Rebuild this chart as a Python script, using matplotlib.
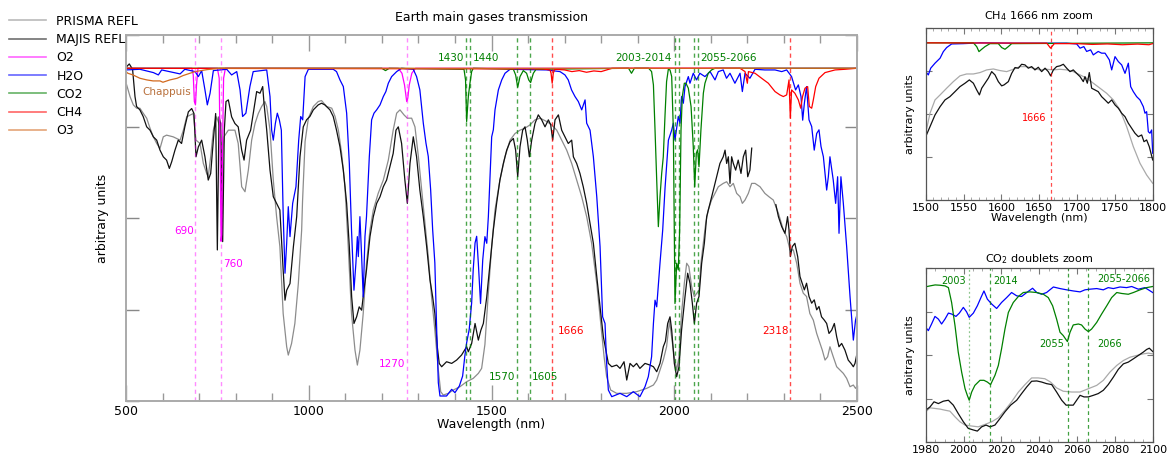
import numpy as np
import matplotlib.pyplot as plt
from matplotlib.ticker import MultipleLocator, NullFormatter
from matplotlib.lines import Line2D

nan = np.nan

# ---------------- main panel (500-2500 nm) ----------------
majis_wl = [501.8, 509, 518, 524.6, 529, 538, 547, 556.6, 565.7, 574.8, 584, 593, 602, 611, 618.6, 625,
            634, 643, 652, 661, 670.6, 679.7, 686, 691.5, 698, 707, 716, 725, 731.7, 739, 745.3, 749.9,
            754.5, 759, 764.5, 769, 773.6, 780, 789, 798, 807, 816.5, 823, 830, 841, 848, 857.5, 866.6,
            874, 877.6, 885, 894, 903, 912, 921, 930, 935, 939.6, 948.7, 958, 967, 976, 985, 994, 1003,
            1012.5, 1026, 1035, 1044, 1058, 1067, 1076, 1085.4, 1094.6, 1103.7, 1111, 1117.4, 1123.7,
            1131, 1138, 1144.7, 1151, 1158, 1167.5, 1176.6, 1185.8, 1195, 1204, 1213, 1222, 1231,
            1238.7, 1245, 1254, 1263, 1269.7, 1277, 1286, 1295, 1304, 1313.4, 1322.6, 1331.7, 1339,
            1345, 1351.7, 1357, 1363.6, 1377, 1391, 1404.6, 1418, 1432, 1436.6, 1445.7, 1455, 1464,
            1471, 1477.7, 1487, 1496, 1505, 1514, 1523, 1532.4, 1541.6, 1550.7, 1559.8, 1566, 1571.7,
            1578, 1585.3, 1591.7, 1598, 1603.6, 1610, 1619, 1628, 1637.3, 1646.4, 1655.6, 1662, 1667.4,
            1673.8, 1683, 1692, 1701, 1710, 1719.4, 1724, 1733, 1742, 1751, 1760.4, 1769.6, 1778.7,
            1788, 1797, 1806, 1813, 1819.7, 1829, 1842.5, 1851.6, 1862.6, 1870, 1879, 1888, 1897, 1906,
            1920, 1933.7, 1943, 1952, 1961, 1970, 1976, 1982, 1988.4, 1993, 2000.2, 2006.6, 2013, 2020,
            2029.4, 2036.7, 2043, 2049.5, 2055, 2061.3, 2067.7, 2075, 2082.3, 2088.7, 2098, 2107, 2116,
            2125, 2134, 2139, 2143.4, 2148, 2152.5, 2157, 2161.6, 2168, 2175, 2182.6, 2189, 2195.4,
            2201, 2207, 2212, 2246, 2278, 2285, 2294, 2303, 2310, 2314, 2317.6, 2323, 2330, 2337.7,
            2344, 2350, 2356, 2362, 2368.7, 2376, 2383, 2389.7, 2396, 2403, 2410.6, 2417, 2423.4,
            2430.7, 2438, 2444.4, 2450.7, 2458, 2467, 2476, 2483.6, 2490, 2494.5, 2500]
majis_val = [1.005, 1.013, 0.997, 0.915, 0.885, 0.875, 0.855, 0.824, 0.814, 0.794, 0.784, 0.754, 0.734,
             0.724, 0.699, 0.719, 0.754, 0.784, 0.774, 0.824, 0.869, 0.879, 0.864, 0.734, 0.764, 0.784,
             0.734, 0.664, 0.684, 0.784, 0.864, 0.454, 0.854, 0.834, 0.479, 0.814, 0.9, 0.905, 0.854,
             0.834, 0.824, 0.754, 0.724, 0.784, 0.814, 0.864, 0.93, 0.925, 0.945, 0.895, 0.814, 0.694,
             0.614, 0.594, 0.574, 0.394, 0.303, 0.333, 0.353, 0.464, 0.554, 0.734, 0.824, 0.845, 0.855,
             0.875, 0.89, 0.895, 0.89, 0.875, 0.855, 0.814, 0.764, 0.694, 0.594, 0.464, 0.313, 0.233,
             0.253, 0.283, 0.273, 0.333, 0.394, 0.494, 0.554, 0.594, 0.614, 0.644, 0.664, 0.704, 0.744,
             0.814, 0.824, 0.774, 0.664, 0.594, 0.714, 0.794, 0.734, 0.634, 0.554, 0.464, 0.364, 0.313,
             0.263, 0.163, 0.113, 0.103, 0.118, 0.113, 0.123, 0.138, 0.163, 0.148, 0.173, 0.233, 0.183,
             0.213, 0.233, 0.313, 0.414, 0.514, 0.594, 0.664, 0.714, 0.754, 0.779, 0.789, 0.754, 0.674,
             0.764, 0.814, 0.824, 0.784, 0.734, 0.784, 0.834, 0.86, 0.845, 0.824, 0.845, 0.83, 0.784,
             0.845, 0.86, 0.814, 0.794, 0.774, 0.784, 0.734, 0.714, 0.684, 0.644, 0.594, 0.534, 0.474,
             0.374, 0.283, 0.193, 0.153, 0.113, 0.103, 0.108, 0.098, 0.118, 0.063, 0.113, 0.103, 0.113,
             0.098, 0.113, 0.108, 0.103, 0.088, 0.113, 0.163, 0.18, 0.233, 0.253, 0.213, 0.113, 0.073,
             0.103, 0.213, 0.313, 0.384, 0.354, 0.294, 0.233, 0.294, 0.314, 0.414, 0.474, 0.554, 0.594,
             0.634, 0.674, 0.714, 0.734, 0.754, 0.714, 0.734, 0.654, 0.734, 0.714, 0.694, 0.724, 0.684,
             0.734, 0.754, 0.674, 0.694, 0.76, nan, 0.59, 0.554, 0.524, 0.504, 0.554, 0.514, 0.434,
             0.464, 0.474, 0.434, 0.374, 0.354, 0.334, 0.354, 0.314, 0.294, 0.304, 0.274, 0.284, 0.253,
             0.243, 0.233, 0.203, 0.213, 0.233, 0.193, 0.163, 0.173, 0.153, 0.123, 0.113, 0.103, 0.113,
             0.143]

prisma_wl = [501.8, 511, 520, 529, 538, 547, 556.6, 565.7, 574.8, 584, 593, 602, 611, 629, 648, 657, 666,
             684, 691.5, 702.5, 711.6, 720.7, 725, 731.7, 739, 748, 757, 762.7, 768, 780, 798, 807, 816.5,
             825.6, 834.7, 843.8, 853, 862, 871, 880, 885, 894, 903, 912, 921, 930, 939.6, 944, 953, 962,
             971.5, 980.6, 983, 990, 999, 1012.5, 1026, 1035, 1049, 1063, 1072, 1081, 1090, 1099, 1108,
             1117, 1126.5, 1133, 1140, 1149, 1158, 1167.5, 1176.6, 1190, 1204, 1217.7, 1231, 1240.5,
             1249.6, 1260.5, 1269.7, 1281.5, 1290.6, 1300, 1309, 1318, 1327, 1336, 1345, 1354.5, 1361,
             1368, 1382, 1395.5, 1413.8, 1432, 1450, 1464, 1473, 1482, 1491, 1500.5, 1509.6, 1523, 1537,
             1550.7, 1564.4, 1578, 1591.7, 1605.4, 1619, 1633, 1651, 1664.7, 1678.4, 1692, 1705.7,
             1719.4, 1733, 1746.8, 1760.4, 1774, 1788, 1799, 1808, 1815, 1826, 1842.5, 1870, 1897,
             1924.6, 1943, 1952, 1961, 1970, 1979, 1987, 2000, 2006.6, 2013, 2020, 2027.6, 2034, 2040,
             2047.6, 2055, 2061, 2067.7, 2073, 2079.6, 2086, 2093, 2102, 2111.5, 2120.6, 2134, 2143.4,
             2152.5, 2161.6, 2170.8, 2180, 2186.3, 2193.6, 2202.7, 2211.8, 2221, 2234.6, 2248, 2259,
             2271, 2285, 2298.5, 2307.6, 2316.7, 2325.8, 2335, 2344, 2353, 2362, 2371, 2380.5, 2389.7,
             2398.8, 2405, 2412.5, 2419.7, 2426, 2435, 2444.4, 2453.5, 2462.6, 2471.7, 2480.9, 2490,
             2496, 2500]
prisma_val = [0.95, 0.915, 0.89, 0.88, 0.88, 0.865, 0.85, 0.82, 0.794, 0.774, 0.759, 0.794, 0.799, 0.794,
              0.784, 0.814, 0.854, 0.864, 0.784, 0.774, 0.714, 0.684, 0.674, 0.734, 0.814, 0.854, 0.824,
              0.714, 0.794, 0.814, 0.814, 0.774, 0.644, 0.629, 0.694, 0.784, 0.834, 0.864, 0.885, 0.9,
              0.885, 0.814, 0.664, 0.554, 0.464, 0.263, 0.163, 0.138, 0.173, 0.233, 0.353, 0.514, 0.6,
              0.78, 0.85, 0.885, 0.9, 0.903, 0.885, 0.88, 0.855, 0.814, 0.744, 0.644, 0.464, 0.263, 0.153,
              0.108, 0.153, 0.263, 0.414, 0.514, 0.574, 0.624, 0.664, 0.724, 0.814, 0.865, 0.875, 0.86,
              0.85, 0.85, 0.824, 0.734, 0.634, 0.534, 0.434, 0.313, 0.213, 0.093, 0.028, 0.018, 0.023,
              0.033, 0.043, 0.058, 0.068, 0.083, 0.098, 0.17, 0.32, 0.464, 0.574, 0.664, 0.734, 0.784,
              0.804, 0.814, 0.82, 0.83, 0.845, 0.85, 0.84, 0.83, 0.814, 0.784, 0.754, 0.714, 0.664, 0.614,
              0.554, 0.474, 0.353, 0.233, 0.133, 0.073, 0.033, 0.023, 0.023, 0.028, 0.038, 0.048, 0.063,
              0.093, 0.123, 0.163, 0.24, 0.133, 0.093, 0.133, 0.263, 0.354, 0.414, 0.404, 0.344, 0.313,
              0.323, 0.333, 0.414, 0.474, 0.534, 0.574, 0.604, 0.624, 0.644, 0.654, 0.659, 0.644, 0.654,
              0.624, 0.614, 0.594, 0.604, 0.624, 0.654, 0.654, 0.644, 0.624, 0.614, 0.604, 0.564, 0.514,
              0.494, 0.454, 0.454, 0.414, 0.354, 0.324, 0.314, 0.263, 0.243, 0.203, 0.173, 0.153, 0.123,
              0.133, 0.163, 0.133, 0.103, 0.093, 0.083, 0.068, 0.043, 0.048, 0.038, 0.045]

h2o_wl = [500, 538, 575, 588.5, 597.6, 648, 661, 689, 698, 707, 716, 722.5, 730, 739, 775.5, 789, 803,
          812, 819, 828, 839, 848, 885, 894, 898.5, 903, 908.6, 914, 919.5, 925, 930, 935, 939.6, 944,
          948.7, 956, 965, 972.5, 978, 983.4, 990, 999, 1067, 1076, 1085.4, 1094.6, 1103.7, 1111, 1117,
          1123.7, 1129, 1133, 1135.6, 1140, 1144.7, 1149, 1153.8, 1158, 1165.7, 1172, 1178.5, 1185.8,
          1195, 1204, 1211, 1217.7, 1226.8, 1240.5, 1254, 1286, 1295, 1304, 1313.4, 1320.7, 1327, 1333.5,
          1339, 1345, 1350, 1354.5, 1359, 1377, 1391, 1400, 1412, 1421, 1427, 1432, 1439, 1445.7, 1450,
          1455, 1459.4, 1464, 1470, 1476, 1482, 1487, 1491.4, 1496, 1500.5, 1505, 1509.6, 1518.8, 1528,
          1537, 1550.7, 1651, 1687.5, 1701, 1710, 1719, 1728.5, 1737.6, 1746.8, 1756, 1760.4, 1769.6,
          1778.7, 1788, 1797, 1804, 1810.6, 1815, 1819.7, 1829, 1851.6, 1870, 1888, 1906, 1920, 1929,
          1938, 1943, 1947.4, 1952, 1961, 1968.4, 1974.8, 1984, 1993, 1997.5, 2002, 2011, 2015.7, 2020,
          2024.9, 2029.4, 2038.5, 2043, 2052, 2061, 2070, 2084, 2098, 2111.5, 2120.6, 2134, 2143,
          2152.5, 2166, 2180, 2186.3, 2193.6, 2207, 2221, 2248, 2275.7, 2294, 2307.6, 2321, 2332,
          2339.5, 2346.8, 2351.4, 2356, 2362, 2368.7, 2376, 2383, 2389.7, 2396, 2401.5, 2408, 2417,
          2421.6, 2426, 2435, 2441.6, 2447, 2450.8, 2456, 2462.6, 2471.7, 2481, 2490, 2496, 2500]
h2o_val = [0.995, 0.997, 0.987, 0.98, 0.995, 0.983, 0.997, 0.99, 0.975, 0.993, 0.935, 0.89, 0.925, 0.993,
           0.997, 0.98, 0.99, 0.935, 0.855, 0.865, 0.945, 0.99, 0.995, 0.915, 0.814, 0.784, 0.834, 0.865,
           0.845, 0.814, 0.564, 0.384, 0.474, 0.584, 0.494, 0.594, 0.644, 0.784, 0.855, 0.845, 0.975,
           0.997, 0.997, 0.99, 0.965, 0.945, 0.865, 0.714, 0.514, 0.333, 0.414, 0.494, 0.434, 0.554, 0.434,
           0.313, 0.494, 0.554, 0.734, 0.845, 0.865, 0.875, 0.89, 0.915, 0.93, 0.955, 0.975, 0.99, 1.0,
           0.997, 0.975, 0.935, 0.835, 0.775, 0.735, 0.635, 0.515, 0.415, 0.215, 0.055, 0.015, 0.015,
           0.035, 0.025, 0.045, 0.075, 0.135, 0.175, 0.215, 0.295, 0.395, 0.475, 0.495, 0.414, 0.293,
           0.424, 0.494, 0.474, 0.554, 0.674, 0.794, 0.815, 0.875, 0.935, 0.965, 0.985, 0.997, 0.995,
           0.99, 0.98, 0.965, 0.935, 0.915, 0.9, 0.875, 0.905, 0.835, 0.814, 0.734, 0.614, 0.464, 0.253,
           0.233, 0.113, 0.033, 0.013, 0.023, 0.013, 0.028, 0.013, 0.043, 0.073, 0.133, 0.233, 0.303,
           0.283, 0.414, 0.514, 0.64, 0.784, 0.814, 0.835, 0.784, 0.855, 0.835, 0.915, 0.895, 0.945,
           0.975, 0.955, 0.985, 0.965, 0.985, 0.975, 0.99, 0.965, 0.99, 0.995, 0.97, 0.985, 0.955, 0.985,
           0.93, 0.985, 0.97, 0.997, 0.995, 0.995, 0.99, 0.995, 0.975, 0.935, 0.95, 0.915, 0.844, 0.895,
           0.945, 0.845, 0.825, 0.754, 0.804, 0.815, 0.765, 0.734, 0.634, 0.674, 0.734, 0.664, 0.594,
           0.674, 0.504, 0.674, 0.594, 0.464, 0.313, 0.183, 0.243, 0.26]

o2_wl = [500, 680, 684, 687, 690, 693, 697, 750, 755, 758, 760, 762, 764, 767, 772, 1245, 1255, 1262,
         1268, 1271, 1275, 1282, 1292, 2500]
o2_val = [1, 1, 0.98, 0.9, 0.89, 0.95, 1, 1, 0.97, 0.7, 0.48, 0.5, 0.75, 0.97, 1, 1, 0.985, 0.95, 0.9,
          0.91, 0.95, 0.985, 1, 1]

co2_wl = [500, 1200, 1210, 1220, 1424.7, 1429, 1432, 1436.6, 1441, 1445.7, 1450, 1559.8, 1566, 1571.7,
          1578, 1587, 1596, 1601.8, 1607, 1614.5, 1621.8, 1875, 1883, 1891, 1930, 1938, 1943, 1947.4,
          1952, 1956.5, 1961, 1965.6, 1970, 1974.8, 1979, 1983.8, 1988.4, 1993, 1997.5, 2002, 2006.6,
          2011, 2014.8, 2018.5, 2022, 2027.6, 2032, 2038.5, 2046, 2052, 2056, 2060.4, 2064, 2067.7,
          2073, 2079.6, 2084, 2093, 2102, 2111.5, 2500]
co2_val = [1, 1, 0.993, 1, 0.997, 0.965, 0.84, 0.915, 0.955, 0.99, 1.0, 0.997, 0.98, 0.943, 0.975, 0.993,
           0.985, 0.965, 0.957, 0.985, 0.997, 1.0, 0.985, 1.0, 1.0, 0.99, 0.95, 0.815, 0.664, 0.524,
           0.614, 0.684, 0.734, 0.86, 0.96, 0.997, 0.995, 0.975, 0.815, 0.293, 0.414, 0.394, 0.514,
           0.815, 0.915, 0.955, 0.955, 0.94, 0.885, 0.765, 0.644, 0.745, 0.755, 0.704, 0.815, 0.925,
           0.955, 0.985, 0.995, 1.0, 1.0]

ch4_wl = [500, 1640, 1660, 1663, 1666, 1669, 1673, 1700, 1720, 1740, 1760, 1780, 1800, 1830, 2180,
          2193.6, 2200, 2203, 2221, 2239, 2257.4, 2275.7, 2289, 2298.5, 2307.6, 2314, 2317.6, 2321,
          2330, 2339.5, 2346, 2351, 2357.7, 2365, 2369.6, 2376, 2380.5, 2387, 2396, 2412.5, 2440, 2467,
          2500]
ch4_val = [1, 0.998, 0.995, 0.985, 0.955, 0.985, 0.997, 0.995, 0.99, 0.993, 0.988, 0.992, 0.99, 1.0, 1.0,
           0.99, 0.955, 0.99, 0.985, 0.97, 0.955, 0.93, 0.92, 0.915, 0.92, 0.965, 0.85, 0.935, 0.925,
           0.905, 0.88, 0.915, 0.94, 0.945, 0.885, 0.88, 0.905, 0.945, 0.97, 0.987, 0.995, 0.997, 1.0]

o3_wl = [500, 505, 519, 538, 557, 574, 593, 601, 620, 640, 656, 675, 689, 722, 757, 2500]
o3_val = [0.99, 0.985, 0.98, 0.97, 0.965, 0.962, 0.962, 0.958, 0.965, 0.97, 0.978, 0.985, 0.99, 0.996,
          1.0, 1.0]

o2_lines = [690, 760, 1270]
co2_lines = [1430, 1440, 1570, 1605, 2003, 2014, 2055, 2066]
ch4_lines = [1666, 2318]

# ---------------- CH4 zoom (1500-1800 nm) ----------------
z1_prisma_wl = [1500, 1505.7, 1512.3, 1519, 1527.7, 1536.5, 1545.3, 1554, 1563, 1571.8, 1580.6, 1589.4,
                1598, 1607, 1615.8, 1624.6, 1633.4, 1642.2, 1651, 1659.9, 1668.7, 1677.5, 1686.3, 1695,
                1704, 1712.7, 1721.5, 1730.3, 1739, 1748, 1756.8, 1765.6, 1774.4, 1783.2, 1792, 1800]
z1_prisma_val = [0.427, 0.555, 0.64, 0.672, 0.715, 0.757, 0.794, 0.806, 0.806, 0.815, 0.832, 0.838, 0.828,
                 0.821, 0.836, 0.853, 0.853, 0.843, 0.832, 0.836, 0.832, 0.836, 0.832, 0.821, 0.8, 0.779,
                 0.747, 0.715, 0.683, 0.64, 0.576, 0.469, 0.341, 0.235, 0.16, 0.107]
z1_majis_wl = [1500, 1505.7, 1512.3, 1519, 1525.5, 1532, 1538.7, 1545.3, 1552, 1557.7, 1563, 1567.4, 1571,
               1574, 1578.4, 1582.8, 1587.2, 1591.6, 1596, 1600.4, 1603.5, 1609.2, 1613.6, 1618, 1622.4,
               1626.8, 1631.2, 1635.6, 1640, 1644.4, 1648.8, 1653.2, 1657.7, 1662, 1665.1, 1668.7, 1673,
               1677.5, 1681.9, 1686.3, 1690.7, 1695, 1699.5, 1704, 1708.3, 1710.5, 1713.6, 1716.2, 1719.3,
               1723.7, 1728, 1732.5, 1737, 1741.3, 1745.8, 1750.2, 1754.6, 1759, 1763.4, 1767.8, 1772.2,
               1776.6, 1781, 1785.4, 1788.5, 1792, 1795.5, 1800]
z1_majis_val = [0.405, 0.469, 0.544, 0.597, 0.64, 0.661, 0.693, 0.725, 0.747, 0.768, 0.747, 0.704, 0.672,
                0.715, 0.747, 0.779, 0.821, 0.8, 0.757, 0.73, 0.736, 0.757, 0.81, 0.847, 0.843, 0.868,
                0.864, 0.843, 0.853, 0.832, 0.849, 0.821, 0.843, 0.821, 0.794, 0.832, 0.853, 0.858, 0.868,
                0.843, 0.821, 0.832, 0.81, 0.789, 0.757, 0.789, 0.747, 0.815, 0.715, 0.704, 0.693, 0.661,
                0.64, 0.619, 0.64, 0.608, 0.587, 0.555, 0.533, 0.491, 0.459, 0.427, 0.405, 0.416, 0.373,
                0.384, 0.341, 0.256]
z1_h2o_wl = [1500, 1503.5, 1506.6, 1512.3, 1519, 1523.3, 1527.7, 1534.3, 1549.7, 1571.8, 1615.8, 1659.9,
             1686.3, 1699.5, 1704, 1709, 1712.7, 1718, 1721.5, 1728, 1732.5, 1737, 1742.7, 1745.8, 1750.2,
             1754.6, 1759, 1763.4, 1767.8, 1770.9, 1774.4, 1778.8, 1783.2, 1787.6, 1789.8, 1792, 1794.2,
             1796.4, 1798.6, 1800]
z1_h2o_val = [0.821, 0.8, 0.843, 0.875, 0.907, 0.949, 0.975, 0.998, 1.0, 1.005, 1.003, 1.003, 1.003,
              0.998, 0.971, 0.981, 0.95, 0.96, 0.928, 0.95, 0.939, 0.939, 0.896, 0.832, 0.917, 0.885,
              0.864, 0.81, 0.875, 0.725, 0.693, 0.661, 0.64, 0.597, 0.555, 0.565, 0.437, 0.427, 0.448,
              0.299]
z1_co2_wl = [1500, 1563, 1567.4, 1570.4, 1574, 1578.4, 1585, 1596, 1600.4, 1604.8, 1609.2, 1613.6, 1800]
z1_co2_val = [1.005, 1.005, 0.981, 0.949, 0.964, 0.981, 1.0, 1.0, 0.975, 0.964, 0.981, 1.0, 1.005]
z1_ch4_wl = [1500, 1660, 1665, 1670, 1700, 1720, 1740, 1760, 1780, 1795, 1800]
z1_ch4_val = [1.005, 1.003, 0.971, 1.0, 1.0, 0.995, 0.998, 0.993, 0.997, 0.993, 1.0]

# ---------------- CO2 doublets zoom (1980-2100 nm) ----------------
z2_co2_wl = [1980, 1982.3, 1985, 1987.6, 1990.2, 1992, 1993.7, 1995.5, 1997.2, 1999, 2000.8, 2002, 2003,
             2004.3, 2006, 2008.7, 2010.8, 2012.6, 2014.3, 2016.6, 2018.4, 2020.1, 2021.9, 2023.7,
             2026.3, 2029, 2031.6, 2035.1, 2038.7, 2042.2, 2044.8, 2047.1, 2049.2, 2051, 2052.7, 2054.9,
             2056.3, 2058, 2060.7, 2062.4, 2064.2, 2066, 2067.7, 2070.4, 2073, 2075.7, 2078.3, 2081,
             2083.6, 2087.1, 2089.8, 2093.3, 2096.8, 2100]
z2_co2_val = [0.981, 0.987, 0.993, 0.991, 0.987, 0.976, 0.882, 0.735, 0.568, 0.442, 0.337, 0.295, 0.264,
              0.316, 0.358, 0.39, 0.39, 0.379, 0.363, 0.421, 0.484, 0.589, 0.714, 0.819, 0.882, 0.92,
              0.945, 0.949, 0.945, 0.934, 0.913, 0.861, 0.777, 0.694, 0.673, 0.635, 0.694, 0.74, 0.746,
              0.74, 0.714, 0.698, 0.714, 0.756, 0.809, 0.861, 0.913, 0.945, 0.939, 0.934, 0.945, 0.962,
              0.976, 0.983]
z2_h2o_wl = [1980, 1981.4, 1983.1, 1984.9, 1986.7, 1988.4, 1990.2, 1992, 1993.7, 1996, 1997.8, 1999.9,
             2001.6, 2003, 2005.2, 2007.3, 2009.2, 2010.8, 2012.6, 2014.9, 2017.5, 2020.1, 2022.8,
             2025.4, 2028.1, 2030.7, 2033.4, 2036.5, 2038.7, 2041.3, 2043.9, 2047.5, 2051, 2054.5, 2058,
             2061.6, 2064.2, 2066.8, 2070.4, 2073.9, 2076.5, 2079.2, 2082.7, 2086.2, 2088.9, 2092.4,
             2095.9, 2100]
z2_h2o_val = [0.725, 0.704, 0.746, 0.794, 0.777, 0.746, 0.777, 0.815, 0.809, 0.794, 0.815, 0.851, 0.823,
              0.788, 0.815, 0.861, 0.913, 0.955, 0.903, 0.872, 0.844, 0.882, 0.913, 0.945, 0.924, 0.92,
              0.945, 0.972, 0.945, 0.934, 0.945, 0.98, 0.97, 0.962, 0.955, 0.949, 0.962, 0.966, 0.97,
              0.962, 0.976, 0.97, 0.98, 0.976, 0.983, 0.966, 0.976, 0.945]
z2_majis_wl = [1980, 1982.3, 1984.4, 1986.7, 1989.3, 1992, 1994.6, 1997.2, 1999.9, 2002.5, 2005.2, 2007.3,
               2009.6, 2011.9, 2014, 2016.6, 2019.3, 2021.9, 2024.9, 2028.1, 2030.7, 2033.4, 2036,
               2038.7, 2041.3, 2043.9, 2046.6, 2049.2, 2051.9, 2054.2, 2056.3, 2058, 2059.8, 2061.6,
               2063.7, 2066, 2068.6, 2071.2, 2073.9, 2076.5, 2079.2, 2081.8, 2084.5, 2087.1, 2089.8,
               2092.4, 2095, 2096.8, 2098.2, 2100]
z2_majis_val = [0.201, 0.222, 0.254, 0.243, 0.258, 0.264, 0.233, 0.18, 0.128, 0.086, 0.076, 0.069, 0.096,
                0.107, 0.096, 0.107, 0.149, 0.191, 0.233, 0.264, 0.306, 0.348, 0.384, 0.386, 0.379,
                0.369, 0.363, 0.316, 0.264, 0.233, 0.233, 0.233, 0.264, 0.295, 0.285, 0.285, 0.295,
                0.306, 0.327, 0.363, 0.41, 0.459, 0.494, 0.505, 0.526, 0.547, 0.568, 0.585, 0.593, 0.572]
z2_prisma_wl = [1980, 1982.3, 1985, 1987.6, 1990.2, 1992.8, 1995.5, 1998.1, 2000.8, 2004.3, 2007.8,
                2011.3, 2014.9, 2018.4, 2021.9, 2025.4, 2029, 2032.5, 2036, 2039.5, 2043, 2046, 2049.2,
                2052.7, 2057.2, 2061.6, 2066, 2070.4, 2073.9, 2077.4, 2081, 2084.5, 2088, 2091.5, 2095,
                2097.7, 2100]
z2_prisma_val = [0.191, 0.216, 0.212, 0.208, 0.201, 0.195, 0.159, 0.128, 0.107, 0.101, 0.096, 0.111,
                 0.128, 0.153, 0.201, 0.254, 0.316, 0.363, 0.405, 0.405, 0.4, 0.379, 0.342, 0.321, 0.316,
                 0.316, 0.337, 0.358, 0.39, 0.442, 0.484, 0.515, 0.536, 0.547, 0.557, 0.562, 0.557]

C_PRISMA = '#8c8c8c'
C_MAJIS = '#111111'
C_O2 = '#ff00ff'
C_H2O = '#0000ff'
C_CO2 = '#008000'
C_CH4 = '#ff0000'
C_O3 = '#d2691e'

plt.rcParams['font.family'] = 'DejaVu Sans'
fig = plt.figure(figsize=(11.72, 4.55), dpi=100)

ax = fig.add_axes([126 / 1172, 1 - 401 / 455, 731 / 1172, 366 / 455])
lw = 0.9
ax.plot(prisma_wl, prisma_val, color=C_PRISMA, lw=lw)
ax.plot(majis_wl, majis_val, color=C_MAJIS, lw=lw)
ax.plot(o2_wl, o2_val, color=C_O2, lw=lw)
ax.plot(h2o_wl, h2o_val, color=C_H2O, lw=lw)
ax.plot(co2_wl, co2_val, color=C_CO2, lw=lw)
ax.plot(ch4_wl, ch4_val, color=C_CH4, lw=lw)
ax.plot(o3_wl, o3_val, color=C_O3, lw=lw)

dash = (0, (3, 2.5))
for w in o2_lines:
    ax.axvline(w, color=C_O2, lw=1.0, ls=dash, alpha=0.45)
for w in co2_lines:
    ax.axvline(w, color=C_CO2, lw=1.0, ls=dash, alpha=0.7)
for w in ch4_lines:
    ax.axvline(w, color=C_CH4, lw=1.0, ls=dash, alpha=0.7)

fs = 7.5
ax.text(687, 0.511, '690', color=C_O2, fontsize=fs, ha='right', va='center')
ax.text(765, 0.412, '760', color=C_O2, fontsize=fs, ha='left', va='center')
ax.text(1265, 0.111, '1270', color=C_O2, fontsize=fs, ha='right', va='center')
ax.text(1425, 1.031, '1430', color=C_CO2, fontsize=fs, ha='right', va='center')
ax.text(1449, 1.031, '1440', color=C_CO2, fontsize=fs, ha='left', va='center')
ax.text(1565, 0.072, '1570', color=C_CO2, fontsize=fs, ha='right', va='center')
ax.text(1610, 0.072, '1605', color=C_CO2, fontsize=fs, ha='left', va='center')
ax.text(1682, 0.21, '1666', color=C_CH4, fontsize=fs, ha='left', va='center')
ax.text(2312, 0.21, '2318', color=C_CH4, fontsize=fs, ha='right', va='center')
ax.text(1994, 1.031, '2003-2014', color=C_CO2, fontsize=fs, ha='right', va='center')
ax.text(2072, 1.031, '2055-2066', color=C_CO2, fontsize=fs, ha='left', va='center')
ax.text(544, 0.93, 'Chappuis', color='#b8703c', fontsize=fs, ha='left', va='center')

ax.set_xlim(500, 2500)
ax.set_ylim(0, 1.1)
ax.xaxis.set_major_locator(MultipleLocator(500))
ax.xaxis.set_minor_locator(MultipleLocator(100))
ax.yaxis.set_major_locator(MultipleLocator(0.275))
ax.yaxis.set_major_formatter(NullFormatter())
ax.tick_params(axis='x', which='major', direction='in', top=True, length=11.5, width=1,
               color='#999999', labelsize=9, pad=3)
ax.tick_params(axis='x', which='minor', direction='in', top=True, length=5.5, width=1, color='#999999')
ax.tick_params(axis='y', which='major', direction='in', right=True, length=9, width=1, color='#888888')
for s in ax.spines.values():
    s.set_color('#aaaaaa')
    s.set_linewidth(1.4)
ax.set_title('Earth main gases transmission', fontsize=9, pad=10)
ax.set_xlabel('Wavelength (nm)', fontsize=9, labelpad=0)
ax.set_ylabel('arbitrary units', fontsize=9, labelpad=9)

handles = [Line2D([], [], color=c, lw=1.2, alpha=0.6)
           for c in [C_PRISMA, C_MAJIS, C_O2, C_H2O, C_CO2, C_CH4, C_O3]]
labels = ['PRISMA REFL', 'MAJIS REFL', 'O2', 'H2O', 'CO2', 'CH4', 'O3']
fig.legend(handles, labels, loc='upper left', bbox_to_anchor=(0.0, 1 - 6 / 455), frameon=False,
           fontsize=9, handlelength=3.0, handletextpad=0.8, labelspacing=0.42, borderaxespad=0.3)


def style_zoom(a):
    a.set_ylim(0, 1.1)
    a.yaxis.set_major_locator(MultipleLocator(0.275))
    a.yaxis.set_major_formatter(NullFormatter())
    a.tick_params(axis='both', which='major', direction='in', top=True, right=True, length=4,
                  width=0.8, color='#777777', labelsize=8, pad=2)
    a.tick_params(axis='x', which='minor', direction='in', top=True, length=2, width=0.6, color='#999999')
    for s in a.spines.values():
        s.set_color('#555555')
        s.set_linewidth(0.9)


# CH4 zoom panel
az1 = fig.add_axes([925.7 / 1172, 1 - 200 / 455, 227 / 1172, 172 / 455])
az1.plot(z1_prisma_wl, z1_prisma_val, color='#aaaaaa', lw=lw)
az1.plot(z1_majis_wl, z1_majis_val, color=C_MAJIS, lw=lw)
az1.plot(z1_h2o_wl, z1_h2o_val, color=C_H2O, lw=lw)
az1.plot(z1_co2_wl, z1_co2_val, color=C_CO2, lw=lw)
az1.plot(z1_ch4_wl, z1_ch4_val, color=C_CH4, lw=lw)
az1.axvline(1666, color=C_CH4, lw=0.9, ls=dash, alpha=0.7)
az1.text(1660, 0.525, '1666', color=C_CH4, fontsize=7, ha='right', va='center')
az1.set_xlim(1500, 1800)
az1.xaxis.set_major_locator(MultipleLocator(50))
az1.xaxis.set_minor_locator(MultipleLocator(10))
style_zoom(az1)
az1.set_title('CH$_4$ 1666 nm zoom', fontsize=8, pad=6)
az1.set_xlabel('Wavelength (nm)', fontsize=8, labelpad=0)
az1.set_ylabel('arbitrary units', fontsize=8, labelpad=6)

# CO2 doublets zoom panel
az2 = fig.add_axes([925.7 / 1172, 1 - 442 / 455, 227 / 1172, 174 / 455])
az2.plot(z2_prisma_wl, z2_prisma_val, color='#aaaaaa', lw=lw)
az2.plot(z2_majis_wl, z2_majis_val, color=C_MAJIS, lw=lw)
az2.plot(z2_h2o_wl, z2_h2o_val, color=C_H2O, lw=lw)
az2.plot(z2_co2_wl, z2_co2_val, color=C_CO2, lw=lw)
az2.axvline(2003, color=C_CO2, lw=0.9, ls=(0, (1.5, 2)), alpha=0.45)
for w in [2014, 2055, 2066]:
    az2.axvline(w, color=C_CO2, lw=0.9, ls=dash, alpha=0.75)
az2.text(2001.5, 1.018, '2003', color=C_CO2, fontsize=7, ha='right', va='center')
az2.text(2015.5, 1.018, '2014', color=C_CO2, fontsize=7, ha='left', va='center')
az2.text(2070.5, 1.03, '2055-2066', color=C_CO2, fontsize=7, ha='left', va='center')
az2.text(2053, 0.622, '2055', color=C_CO2, fontsize=7, ha='right', va='center')
az2.text(2070.5, 0.622, '2066', color=C_CO2, fontsize=7, ha='left', va='center')
az2.set_xlim(1980, 2100)
az2.xaxis.set_major_locator(MultipleLocator(20))
az2.xaxis.set_minor_locator(MultipleLocator(5))
style_zoom(az2)
az2.set_title('CO$_2$ doublets zoom', fontsize=8, pad=4)
az2.set_ylabel('arbitrary units', fontsize=8, labelpad=6)

fig.savefig('out.png', dpi=100)
